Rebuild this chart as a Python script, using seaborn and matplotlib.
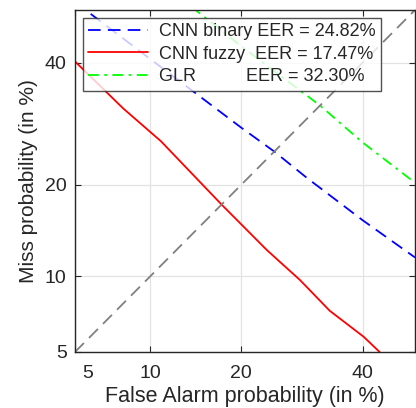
import numpy as np
import matplotlib
matplotlib.use("Agg")
import matplotlib.pyplot as plt
import matplotlib.transforms as mtransforms
import seaborn as sns
from statistics import NormalDist

# DET points (false alarm %, miss %)
binary_fa = [5.0, 5.7, 10, 20, 24.8, 30, 40, 50]
binary_miss = [51.6, 49.6, 40.7, 28.6, 24.8, 21.0, 15.6, 11.7]
fuzzy_fa = [4.5, 4.9, 7.9, 10.95, 17.47, 23.7, 28.9, 34.0, 40.2, 43.2, 45.0]
fuzzy_miss = [42.5, 40.6, 31.8, 26.4, 17.47, 12.4, 9.7, 7.4, 5.8, 5.0, 4.6]
glr_fa = [14, 20, 32.3, 40, 50]
glr_miss = [50.6, 43.1, 32.3, 26.2, 20.3]
diag = [5, 50]
ticks = [5, 10, 20, 40]
labels = ["CNN binary EER = 24.82%",
          "CNN fuzzy  EER = 17.47%",
          "GLR          EER = 32.30%"]

nd = NormalDist()


def fwd(x):
    p = np.clip(np.asarray(x, float) / 100, 1e-9, 1 - 1e-9)
    out = [nd.inv_cdf(v) if np.isfinite(v) else np.nan for v in p.ravel()]
    return np.array(out, float).reshape(p.shape)


def inv(z):
    z = np.asarray(z, float)
    out = [nd.cdf(v) * 100 if np.isfinite(v) else np.nan for v in z.ravel()]
    return np.array(out, float).reshape(z.shape)


sns.set_style("white")
plt.rcParams["font.family"] = ["Liberation Sans", "DejaVu Sans"]

fig = plt.figure(figsize=(4.16, 4.08), dpi=100)
ax = fig.add_axes([75 / 416, 56 / 408, 340 / 416, 342 / 408])
ax.set_xscale("function", functions=(fwd, inv))
ax.set_yscale("function", functions=(fwd, inv))

sns.lineplot(x=binary_fa, y=binary_miss, ax=ax, color="#0000ff", lw=1.3,
             linestyle=(0, (7, 4)), label=labels[0], estimator=None, sort=False)
sns.lineplot(x=fuzzy_fa, y=fuzzy_miss, ax=ax, color="#ff0000", lw=1.3,
             label=labels[1], estimator=None, sort=False)
sns.lineplot(x=glr_fa, y=glr_miss, ax=ax, color="#00ff00", lw=1.3,
             linestyle=(0, (6, 3, 1.5, 3)), label=labels[2], estimator=None, sort=False)
sns.lineplot(x=diag, y=diag, ax=ax, color="#808080", lw=1.3,
             linestyle=(0, (7, 4)), estimator=None, sort=False, legend=False)

ax.set_xlim(5, 50)
ax.set_ylim(5, 50)
ax.set_xticks(ticks)
ax.set_xticklabels([str(t) for t in ticks])
ax.set_yticks(ticks)
ax.set_yticklabels([str(t) for t in ticks])
ax.minorticks_off()
ax.grid(True, color="#e3e3e3", lw=0.9)
ax.set_axisbelow(True)
ax.tick_params(direction="in", length=4, width=0.8, color="#262626",
               labelsize=14, labelcolor="#262626", top=True, right=True,
               left=True, bottom=True)
ax.tick_params(axis="x", pad=9)
ax.tick_params(axis="y", pad=6)
for s in ax.spines.values():
    s.set_color("#262626")
    s.set_linewidth(1.0)

# shift the "5" label on x off the corner like the original
lab = ax.get_xticklabels()[0]
lab.set_transform(lab.get_transform() + mtransforms.ScaledTranslation(13 / 100, 0, fig.dpi_scale_trans))

ax.set_xlabel("False Alarm probability (in %)", fontsize=15.5, color="#262626", labelpad=3)
ax.set_ylabel("Miss probability (in %)", fontsize=15, color="#262626", labelpad=5)

leg = ax.legend(loc="upper left", bbox_to_anchor=(0.0235, 0.977), borderaxespad=0,
                fontsize=13, frameon=True, fancybox=False, handlelength=3.3,
                handletextpad=0.6, labelspacing=0.3, borderpad=0.3)
leg.get_frame().set_edgecolor("#262626")
leg.get_frame().set_linewidth(1.0)
for t in leg.get_texts():
    t.set_color("#262626")

fig.savefig("out.png", dpi=100)
